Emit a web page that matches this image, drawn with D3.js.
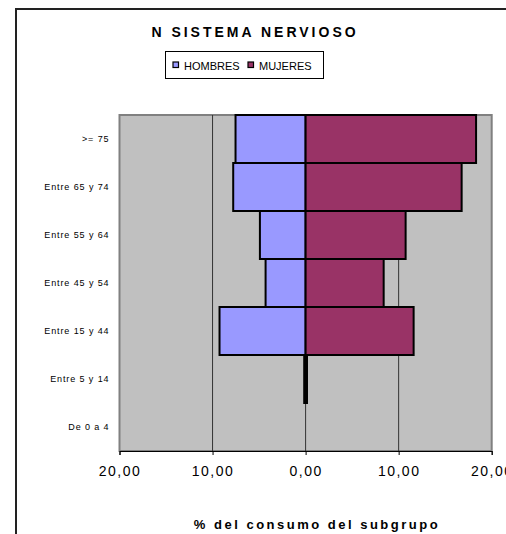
<!DOCTYPE html>
<html><head><meta charset="utf-8">
<script src="https://cdn.jsdelivr.net/npm/d3@7"></script>
<style>body{margin:0;background:#fff}svg{display:block}text{font-family:"Liberation Sans",Arial,sans-serif}</style>
</head><body>
<svg id="c" width="506" height="534"></svg>
<script>
const categories = [">= 75", "Entre 65 y 74", "Entre 55 y 64", "Entre 45 y 54", "Entre 15 y 44", "Entre 5 y 14", "De 0 a 4"];
const hombres = [7.53, 7.78, 4.91, 4.30, 9.25, 0.15, 0];
const mujeres = [18.32, 16.77, 10.75, 8.39, 11.61, 0.15, 0];
const tickValues = [-20, -10, 0, 10, 20];
const tickLabels = ["20,00", "10,00", "0,00", "10,00", "20,00"];
const seriesNames = ["HOMBRES", "MUJERES"];
const colors = ["#9999FF", "#993366"];

const svg = d3.select("#c");
const L = 119.5, R = 491.7, T = 115, B = 451;
const x = d3.scaleLinear().domain([-20, 20]).range([L, R]);
const y = d3.scaleBand().domain(categories).range([T, B]).padding(0);

// outer chart border
svg.append("rect").attr("x", 16).attr("y", 9).attr("width", 700).attr("height", 700)
  .attr("fill", "none").attr("stroke", "#222").attr("stroke-width", 2);

// plot background
svg.append("rect").attr("x", L).attr("y", T).attr("width", R - L).attr("height", B - T)
  .attr("fill", "#C0C0C0").attr("stroke", "#808080").attr("stroke-width", 2);

// gridlines
svg.append("g").selectAll("line").data([-10, 0, 10]).join("line")
  .attr("x1", d => x(d)).attr("x2", d => x(d)).attr("y1", T).attr("y2", B)
  .attr("stroke", "#333").attr("stroke-width", 1);

// bars
const rows = categories.map((c, i) => ({c, h: hombres[i], m: mujeres[i]}));
svg.append("g").selectAll("rect").data(rows.filter(d => d.h > 0)).join("rect")
  .attr("x", d => x(-d.h)).attr("width", d => x(0) - x(-d.h))
  .attr("y", d => y(d.c)).attr("height", y.bandwidth())
  .attr("fill", colors[0]).attr("stroke", "#000").attr("stroke-width", 2);
svg.append("g").selectAll("rect").data(rows.filter(d => d.m > 0)).join("rect")
  .attr("x", x(0)).attr("width", d => x(d.m) - x(0))
  .attr("y", d => y(d.c)).attr("height", y.bandwidth())
  .attr("fill", colors[1]).attr("stroke", "#000").attr("stroke-width", 2);

// x axis
const xAxis = d3.axisBottom(x).tickValues(tickValues)
  .tickFormat((d, i) => tickLabels[i]).tickSize(4).tickPadding(11);
const gx = svg.append("g").attr("transform", `translate(0,${B})`).call(xAxis);
gx.select(".domain").attr("stroke", "#000");
gx.selectAll(".tick line").attr("stroke", "#000");
gx.selectAll("text").attr("font-size", 14).attr("fill", "#000")
  .style("font-family", '"Liberation Sans",Arial,sans-serif').attr("letter-spacing", "1.5px");

// y labels
const yAxis = d3.axisLeft(y).tickSize(0).tickPadding(10);
const gy = svg.append("g").attr("transform", `translate(${L},0)`).call(yAxis);
gy.select(".domain").remove();
gy.selectAll("text").attr("font-size", 9).attr("fill", "#000")
  .style("font-family", '"Liberation Sans",Arial,sans-serif').attr("letter-spacing", "0.9px");

// title
svg.append("text").attr("x", 255).attr("y", 37).attr("text-anchor", "middle")
  .attr("font-size", 14).attr("font-weight", "bold").attr("letter-spacing", "3px")
  .text("N SISTEMA NERVIOSO");

// x axis title
svg.append("text").attr("x", 317).attr("y", 529).attr("text-anchor", "middle")
  .attr("font-size", 13).attr("font-weight", "bold").attr("letter-spacing", "2.5px")
  .text("% del consumo del subgrupo");

// legend
const lg = svg.append("g");
lg.append("rect").attr("x", 165.5).attr("y", 51.5).attr("width", 158).attr("height", 27)
  .attr("fill", "#fff").attr("stroke", "#000").attr("stroke-width", 1);
const lx = [173, 248];
seriesNames.forEach((n, i) => {
  lg.append("rect").attr("x", lx[i]).attr("y", 62).attr("width", 5.5).attr("height", 5.5)
    .attr("fill", colors[i]).attr("stroke", "#000").attr("stroke-width", 1.2);
  lg.append("text").attr("x", lx[i] + 11).attr("y", 69.5).attr("font-size", 11)
    .text(n);
});
</script>
</body></html>
